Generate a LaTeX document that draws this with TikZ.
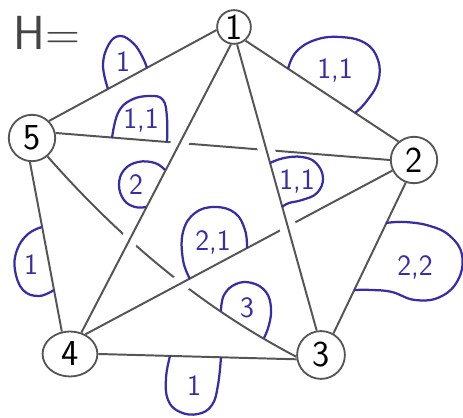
\documentclass[tikz,border=0pt]{standalone}
\usepackage{tikz}
\usepackage{xcolor}
\usetikzlibrary{shapes.geometric}
\definecolor{penblue}{RGB}{55,45,165}
\definecolor{pencil}{RGB}{85,85,85}

\begin{document}
\begin{tikzpicture}[x=0.025cm, y=-0.025cm,
    vertex/.style={circle, draw=pencil, line width=1.3pt, inner sep=0pt, font=\sffamily\fontsize{26}{26}\selectfont},
    edge/.style={draw=pencil, line width=1.4pt},
    overedge/.style={edge, preaction={draw=white, line width=12pt, shorten <=38pt, shorten >=38pt}},
    blob/.style={draw=penblue, line width=1.6pt},
    weight/.style={text=penblue, inner sep=0pt, font=\sffamily\fontsize{21}{21}\selectfont}]
    \useasboundingbox (0,0) rectangle (463,418);

    % Title
    \node[font=\sffamily\fontsize{34}{34}\selectfont, text=pencil!80!black] (title) at (47,33) {H=};

    % Vertices
    \node[vertex, minimum size=24pt] (n1) at (234,27) {1};
    \node[vertex, minimum size=33pt] (n2) at (414,160) {2};
    \node[vertex, minimum size=34pt] (n3) at (321,355) {3};
    \node[vertex, ellipse, minimum width=39pt, minimum height=32pt] (n4) at (70,354) {4};
    \node[vertex, minimum size=33pt] (n5) at (32,138) {5};

    % Outer edges
    \draw[edge] (n1.190) -- (n5.45);
    \draw[edge] (n1.-50) -- (n2.130);
    \draw[edge] (n2.-110) -- (n3.60);
    \draw[edge] (n4.0) -- (n3.190);
    \draw[edge] (n5.-95) -- (n4.110);

    % Inner edges (the later ones pass over the earlier ones)
    \draw[edge] (n5.12) -- (n2.180);
    \draw[edge] (n5.-50) .. controls (122,241) and (203,308) .. (n3.184);
    \draw[overedge] (n4.52) -- (n2.206);
    \draw[overedge] (n1.-100) -- (n4.62);
    \draw[overedge] (n1.-80) -- (n3.100);

    % Weights
    \node[weight] (w15) at (123,62) {1};
    \node[weight] (w12) at (335,70) {1,1};
    \node[weight] (w52) at (141,120) {1,1};
    \node[weight] (w14) at (136,185) {2};
    \node[weight] (w13) at (297,181) {1,1};
    \node[weight] (w42) at (213,242) {2,1};
    \node[weight] (w53) at (247,308) {3};
    \node[weight] (w43) at (194,386) {1};
    \node[weight] (w54) at (31,265) {1};
    \node[weight] (w23) at (415,267) {2,2};

    % Loops round the weights
    \draw[blob] plot[smooth, tension=0.7] coordinates {(108,89) (103,65) (109,44) (120,36) (133,43) (142,56) (147,68)};
    \draw[blob] plot[smooth, tension=0.7] coordinates {(288,69) (296,52) (315,40) (340,37) (365,43) (378,60) (378,82) (366,102) (355,113)};
    \draw[blob] plot[smooth, tension=0.7] coordinates {(112,138) (118,113) (131,100) (150,96) (163,100) (167,118) (167,142)};
    \draw[blob] plot[smooth, tension=0.7] coordinates {(165,170) (155,163) (138,162) (124,170) (119,185) (124,200) (135,207) (146,207)};
    \draw[blob] plot[smooth, tension=0.7] coordinates {(270,163) (284,158) (302,157) (316,163) (323,178) (317,193) (302,200) (289,203) (282,207)};
    \draw[blob] plot[smooth, tension=0.7] coordinates {(190,279) (183,260) (183,232) (195,213) (215,207) (235,213) (245,230) (247,248)};
    \draw[blob] plot[smooth, tension=0.7] coordinates {(221,311) (224,295) (236,284) (252,283) (266,292) (271,308) (269,325) (264,338)};
    \draw[blob] plot[smooth, tension=0.7] coordinates {(170,356) (166,378) (168,400) (180,412) (198,414) (212,405) (218,385) (221,357)};
    \draw[blob] plot[smooth, tension=0.7] coordinates {(42,227) (28,234) (17,250) (15,270) (23,290) (39,296) (54,290)};
    \draw[blob] plot[smooth, tension=0.7] coordinates {(386,223) (405,222) (430,226) (450,236) (462,255) (458,280) (440,297) (415,300) (392,292) (372,290) (354,290)};
\end{tikzpicture}
\end{document}
